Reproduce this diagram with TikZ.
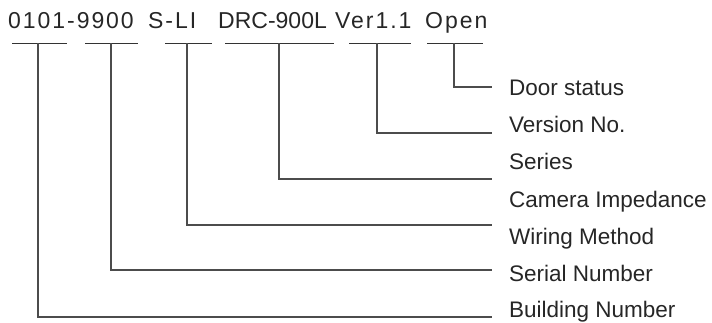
\documentclass[tikz,border=0pt]{standalone}
\usepackage{fontspec}
\setmainfont{Liberation Sans}
\usepackage{tikz}

\begin{document}
\begin{tikzpicture}[x=1pt, y=-1pt,
    code/.style = {anchor=base west, inner sep=0pt, text=black!85,
        font=\fontsize{23}{26}\selectfont\addfontfeature{LetterSpace=8.5}},
    plain/.style = {code, font=\fontsize{23}{26}\selectfont},
    label/.style = {anchor=base west, inner sep=0pt, text=black!85,
        font=\fontsize{22.5}{26}\selectfont},
    bar/.style = {line width=1.8pt, black!80},
    lead/.style = {line width=1.2pt, black!70}]
    \useasboundingbox (0,0) rectangle (712,323);

    % the code line
    \node[code] (number) at (8,28.3) {0101-9900};
    \node[code] (wiring) at (148,28.3) {S-LI};
    \node[plain] (series) at (218,28.3) {DRC-900L};
    \node[code] (version) at (335,28.3) {Ver1.1};
    \node[code] (door) at (425,28.3) {Open};

    % labels
    \node[label] (lDoor) at (509,96) {Door status};
    \node[label] (lVer) at (509,133) {Version No.};
    \node[label] (lSeries) at (509,170) {Series};
    \node[label] (lCam) at (509,207.5) {Camera Impedance};
    \node[label] (lWir) at (509,244.5) {Wiring Method};
    \node[label] (lSerial) at (509,281.5) {Serial Number};
    \node[label] (lBldg) at (509,317.5) {Building Number};

    % bars under the code
    \draw[bar] (12,43.5) -- (67,43.5);
    \draw[bar] (85,43.5) -- (138,43.5);
    \draw[bar] (165,43.5) -- (212,43.5);
    \draw[bar] (225,43.5) -- (334,43.5);
    \draw[bar] (349,43.5) -- (411,43.5);
    \draw[bar] (427,43.5) -- (483,43.5);

    \coordinate (tBldg) at (38,43.5);
    \coordinate (tSerial) at (111,43.5);
    \coordinate (tWir) at (187,43.5);
    \coordinate (tSeries) at (279,43.5);
    \coordinate (tVer) at (377,43.5);
    \coordinate (tDoor) at (454,43.5);

    \coordinate (eDoor) at (492,87);
    \coordinate (eVer) at (492,133);
    \coordinate (eSeries) at (492,179);
    \coordinate (eWir) at (492,225);
    \coordinate (eSerial) at (492,270);
    \coordinate (eBldg) at (492,317);

    % leads
    \draw[lead] (tDoor) |- (eDoor);
    \draw[lead] (tVer) |- (eVer);
    \draw[lead] (tSeries) |- (eSeries);
    \draw[lead] (tWir) |- (eWir);
    \draw[lead] (tSerial) |- (eSerial);
    \draw[lead] (tBldg) |- (eBldg);
\end{tikzpicture}
\end{document}
